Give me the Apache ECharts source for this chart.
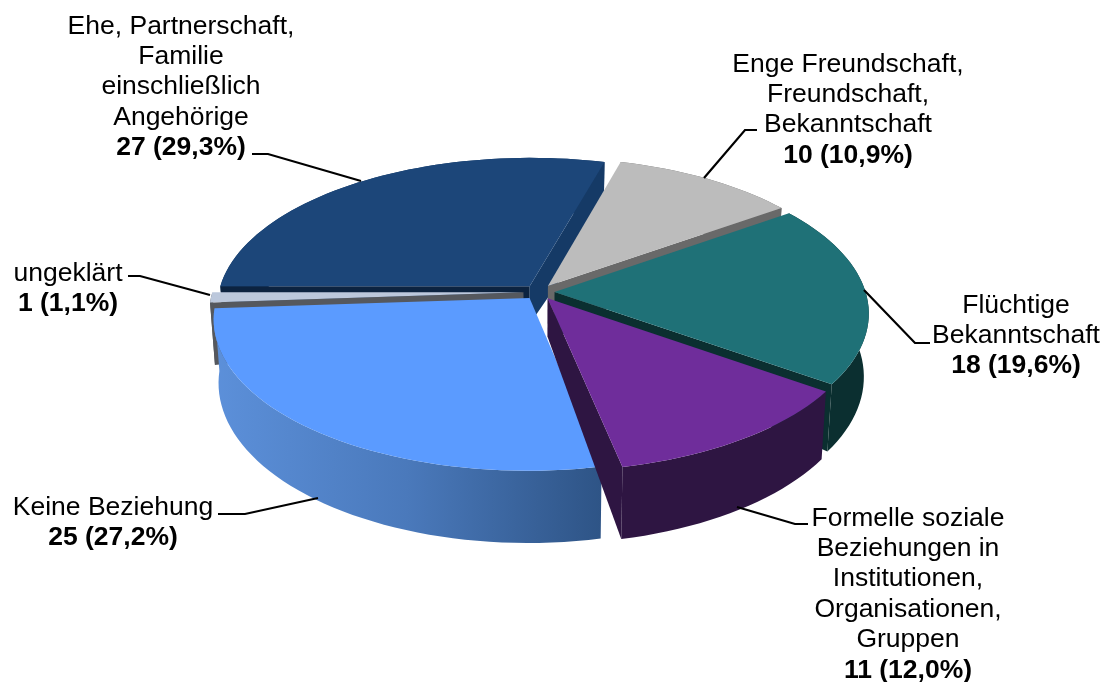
<!DOCTYPE html>
<html>
<head>
<meta charset="utf-8">
<style>
html, body { margin: 0; padding: 0; background: #fff; }
#chart { width: 1108px; height: 682px; }
</style>
<script src="https://cdn.jsdelivr.net/npm/echarts@6/dist/echarts.min.js"></script>
</head>
<body>
<div id="chart"></div>
<script>
// values
var categories = [
	'Ehe, Partnerschaft,\nFamilie\neinschließlich\nAngehörige',
	'Enge Freundschaft,\nFreundschaft,\nBekanntschaft',
	'Flüchtige\nBekanntschaft',
	'Formelle soziale\nBeziehungen in\nInstitutionen,\nOrganisationen,\nGruppen',
	'Keine Beziehung',
	'ungeklärt'
];
var values = [27, 10, 18, 11, 25, 1];
var topColors = ['#1c4679', '#bcbcbc', '#1f7177', '#6f2d9b', '#5b9bff', '#bcc8dc'];
var startWallColors = ['#0c2340', '#696969', '#0b2f30', '#2e1542', '#2e5486', '#55585e'];
var endWallColors = ['#153a66', '#696969', '#0b2f30', '#2e1542', '#2e5486', '#55585e'];
var sideColors = ['#153a66', '#696969', '#0b2f30', '#2e1542', null, '#55585e'];

// painter's order, back slices first
var drawOrder = [0, 5, 1, 2, 4, 3];

// where each label and its leader line sit
var labelCenterX = [181, 848, 1016, 908, 113, 68];
var labelTop = [11, 49, 290, 503, 492, 258];
var leaderLines = [
	[[252, 154], [268, 154], [361, 181]],
	[[757, 130], [745, 130], [704, 178]],
	[[864, 290], [915, 343], [930, 343]],
	[[737, 507], [795, 524], [808, 524]],
	[[218, 514], [245, 514], [318, 498]],
	[[128, 276], [140, 276], [210, 295]]
];

// fake 3D view of the pie
var view = {
	cx: 539, cy: 292, k: 311, kq: 147.4, persp: 0.137,
	depth: 62, tipDepth: 38, shrink: 0.985, explode: 0.05, startDeg: 270
};

var total = values.reduce(function (a, b) { return a + b; }, 0);

// start and end angle of each slice, clockwise from the back of the pie
var angles = [];
var acc = view.startDeg;
values.forEach(function (v) {
	var span = v / total * 360;
	angles.push([acc, acc + span]);
	acc += span;
});

function project(t, r, mid, down) {
	var X = r * Math.sin(t) + view.explode * Math.sin(mid);
	var Y = r * Math.cos(t) + view.explode * Math.cos(mid);
	var s = 1 / (1 + view.persp * Y);
	var x = view.k * X * s;
	var y = -view.kq * Y * s;
	if (down) {
		x *= view.shrink;
		y += down * s;
	}
	return [view.cx + x, view.cy + y];
}

function rimPoints(a0, a1, mid, down) {
	var pts = [];
	var steps = Math.max(2, Math.ceil((a1 - a0) / 2));
	for (var i = 0; i <= steps; i++) {
		var deg = a0 + (a1 - a0) * i / steps;
		pts.push(project(deg * Math.PI / 180, 1, mid, down));
	}
	return pts;
}

function poly(points, fill) {
	return {
		type: 'polygon',
		shape: { points: points },
		style: { fill: fill, stroke: null }
	};
}

function renderSlice(params, api) {
	var idx = api.value(0);
	var a0 = angles[idx][0];
	var a1 = angles[idx][1];
	var mid = (a0 + a1) / 2 * Math.PI / 180;
	var tip = project(0, 0, mid, 0);
	var tipLow = project(0, 0, mid, view.tipDepth);
	var top = rimPoints(a0, a1, mid, 0);
	var low = rimPoints(a0, a1, mid, view.depth);
	var last = top.length - 1;

	var sideFill = sideColors[idx] || new echarts.graphic.LinearGradient(0, 0, 1, 0, [
		{ offset: 0, color: '#5c90da' },
		{ offset: 0.5, color: '#4a79bb' },
		{ offset: 1, color: '#2e5486' }
	]);

	var children = [];
	// the outer curved side
	children.push(poly(top.concat(low.slice().reverse()), sideFill));
	// cut faces, only those turned towards the viewer
	if (Math.sin(a0 * Math.PI / 180) < 0) {
		children.push(poly([tip, top[0], low[0], tipLow], startWallColors[idx]));
	}
	if (Math.sin(a1 * Math.PI / 180) > 0) {
		children.push(poly([tip, top[last], low[last], tipLow], endWallColors[idx]));
	}
	// the top face
	children.push(poly([tip].concat(top), topColors[idx]));
	return { type: 'group', children: children };
}

function percentText(v) {
	return (v / total * 100).toFixed(1).replace('.', ',') + '%';
}

var graphics = [];
categories.forEach(function (name, i) {
	var text = name.split('\n').map(function (l) { return '{n|' + l + '}'; }).join('\n');
	text += '\n{b|' + values[i] + ' (' + percentText(values[i]) + ')}';
	graphics.push({
		type: 'text',
		x: labelCenterX[i],
		y: labelTop[i],
		z: 10,
		style: {
			text: text,
			align: 'center',
			verticalAlign: 'top',
			rich: {
				n: { fontFamily: 'Liberation Sans', fontSize: 26.5, lineHeight: 30.4, fill: '#000', align: 'center' },
				b: { fontFamily: 'Liberation Sans', fontSize: 26.5, fontWeight: 'bold', lineHeight: 30.4, fill: '#000', align: 'center' }
			}
		}
	});
	graphics.push({
		type: 'polyline',
		z: 9,
		shape: { points: leaderLines[i] },
		style: { stroke: '#000', lineWidth: 2.2, fill: null }
	});
});

var chart = echarts.init(document.getElementById('chart'));
chart.setOption({
	animation: false,
	backgroundColor: '#fff',
	graphic: graphics,
	series: [{
		type: 'custom',
		coordinateSystem: 'none',
		renderItem: renderSlice,
		encode: { value: 1 },
		silent: true,
		data: drawOrder.map(function (i) { return [i, values[i]]; })
	}]
});
</script>
</body>
</html>
